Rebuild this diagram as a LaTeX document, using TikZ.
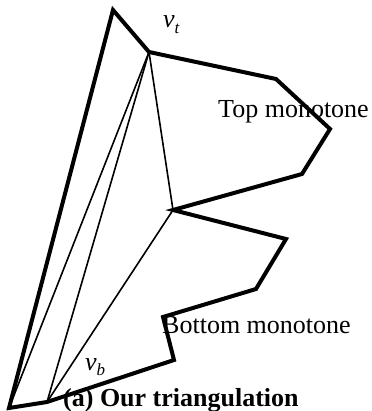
\documentclass[tikz,border=0pt]{standalone}
\usepackage{fontspec}
\setmainfont{Liberation Serif}
\begin{document}
\begin{tikzpicture}[x=1pt,y=-1pt,
  edge/.style={line width=4pt, line join=miter},
  diag/.style={line width=1.6pt},
  lbl/.style={inner sep=0pt, anchor=base west, font=\fontsize{26}{30}\selectfont},
  caption/.style={inner sep=0pt, anchor=base west, font=\fontsize{26}{30}\selectfont\bfseries}]
\useasboundingbox (0,0) rectangle (371,411);
\coordinate (A) at (113,10);
\coordinate (B) at (149,52);
\coordinate (C) at (276,79);
\coordinate (D) at (330,129);
\coordinate (E) at (302,174);
\coordinate (F) at (173,210);
\coordinate (G) at (286,239);
\coordinate (H) at (256,289);
\coordinate (I) at (163,317);
\coordinate (J) at (174,360);
\coordinate (K) at (47,402);
\coordinate (L) at (9,408);
\draw[diag] (B) -- (F);
\draw[diag] (B) -- (L);
\draw[diag] (B) -- (K);
\draw[diag] (F) -- (K);
\node[lbl] (top) at (218,118) {Top monotone};
\node[lbl] (bot) at (162,333) {Bottom monotone};
\node[lbl] (vt) at (163,28) {\textit{v}\raisebox{-0.22em}{\fontsize{17}{17}\selectfont\textit{t}}};
\node[lbl] (vb) at (85,370) {\textit{v}\raisebox{-0.22em}{\fontsize{17}{17}\selectfont\textit{b}}};
\node[caption] (cap) at (63,406) {(a) Our triangulation};
\draw[edge] (A) -- (B) -- (C) -- (D) -- (E) -- (F) -- (G) -- (H) -- (I) -- (J) -- (K) -- (L) -- cycle;
\end{tikzpicture}
\end{document}
